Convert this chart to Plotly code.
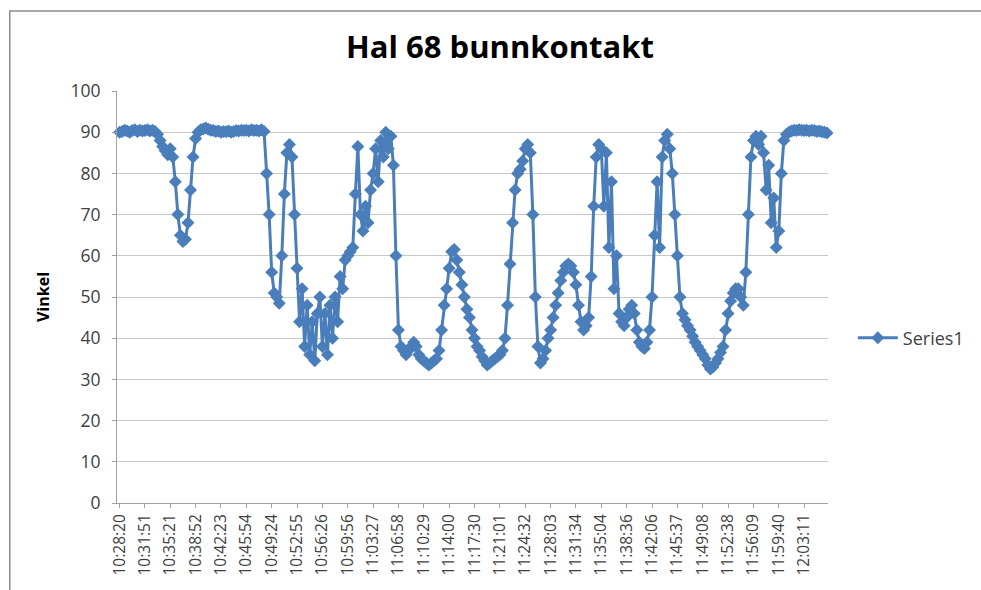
import plotly.graph_objects as go

title_text = "Hal 68 bunnkontakt"
y_title = "Vinkel"
series_name = "Series1"

tick_labels = [
    "10:28:20", "10:31:51", "10:35:21", "10:38:52", "10:42:23", "10:45:54",
    "10:49:24", "10:52:55", "10:56:26", "10:59:56", "11:03:27", "11:06:58",
    "11:10:29", "11:14:00", "11:17:30", "11:21:01", "11:24:32", "11:28:03",
    "11:31:34", "11:35:04", "11:38:36", "11:42:06", "11:45:37", "11:49:08",
    "11:52:38", "11:56:09", "11:59:40", "12:03:11",
]

# samples per labelled interval
samples_per_label = 10

values = [
    90.0, 90.2, 90.5, 90.3, 90.0, 90.4, 90.6, 90.2, 90.5, 90.3,
    90.4, 90.6, 90.3, 90.5, 90.2, 89.5, 88.0, 86.5, 85.5, 84.5,
    86.0, 84.0, 78.0, 70.0, 65.0, 63.5, 64.0, 68.0, 76.0, 84.0,
    88.5, 90.0, 90.6, 90.8, 91.0, 90.7, 90.5, 90.4, 90.2, 90.3,
    90.0, 90.2, 90.1, 90.3, 90.0, 90.2, 90.4, 90.3, 90.5, 90.4,
    90.5, 90.3, 90.6, 90.4, 90.5, 90.3, 90.6, 90.2, 80.0, 70.0,
    56.0, 51.0, 50.0, 48.5, 60.0, 75.0, 85.0, 87.0, 84.0, 70.0,
    57.0, 44.0, 52.0, 38.0, 48.0, 36.0, 44.0, 34.5, 46.0, 50.0,
    38.0, 46.0, 36.0, 48.0, 40.0, 50.0, 44.0, 55.0, 52.0, 59.0,
    60.0, 61.0, 62.0, 75.0, 86.5, 70.0, 66.0, 72.0, 68.0, 76.0,
    80.0, 86.0, 78.0, 88.0, 84.0, 90.0, 86.0, 89.0, 82.0, 60.0,
    42.0, 38.0, 37.0, 36.0, 37.0, 38.0, 39.0, 38.0, 36.0, 35.0,
    34.5, 34.0, 33.5, 34.0, 34.5, 35.0, 37.0, 42.0, 48.0, 52.0,
    57.0, 61.0, 61.5, 59.0, 56.0, 53.0, 50.0, 47.0, 45.0, 42.0,
    40.0, 38.0, 37.0, 35.5, 34.5, 33.5, 34.0, 34.5, 35.0, 35.5,
    36.0, 37.0, 40.0, 48.0, 58.0, 68.0, 76.0, 80.0, 81.0, 83.0,
    86.0, 87.0, 85.0, 70.0, 50.0, 38.0, 34.0, 35.0, 37.0, 40.0,
    42.0, 45.0, 48.0, 51.0, 54.0, 56.0, 57.5, 58.0, 57.5, 56.0,
    53.0, 48.0, 44.0, 42.0, 43.0, 45.0, 55.0, 72.0, 84.0, 87.0,
    86.0, 72.0, 85.0, 62.0, 78.0, 52.0, 60.0, 46.0, 44.0, 43.0,
    45.0, 47.0, 48.0, 46.0, 42.0, 39.0, 38.0, 37.5, 39.0, 42.0,
    50.0, 65.0, 78.0, 62.0, 84.0, 88.0, 89.5, 86.0, 80.0, 70.0,
    60.0, 50.0, 46.0, 44.5, 43.0, 42.0, 40.5, 39.0, 38.0, 37.0,
    36.0, 35.0, 33.5, 32.5, 33.0, 34.0, 35.0, 36.5, 38.0, 42.0,
    46.0, 49.0, 51.0, 52.0, 52.0, 50.0, 48.0, 56.0, 70.0, 84.0,
    88.0, 89.0, 87.0, 89.0, 85.0, 76.0, 82.0, 68.0, 74.0, 62.0,
    66.0, 80.0, 88.0, 89.5, 90.0, 90.3, 90.5, 90.4, 90.6, 90.5,
    90.4, 90.5, 90.3, 90.5, 90.4, 90.2, 90.3, 90.1, 90.0, 89.8,
    89.6,
]

y_ticks = [0, 10, 20, 30, 40, 50, 60, 70, 80, 90, 100]

blue = "#4A7EBB"
grid = "#C8C8C8"
txt = "#404040"
font_family = "Open Sans, Lato, DejaVu Sans, sans-serif"

x_idx = list(range(len(values)))
tick_pos = [k * samples_per_label for k in range(len(tick_labels))]

fig = go.Figure()
fig.add_trace(go.Scatter(
    x=x_idx, y=values, mode="lines+markers", name=series_name,
    line=dict(color=blue, width=3),
    marker=dict(symbol="diamond", size=10, color=blue),
    cliponaxis=False,
))

W, H = 981, 590
L, R, T, B = 117, 148, 91, 87
pw, ph = W - L - R, H - T - B

def px_x(p):
    return (p - L) / pw

def px_y(p):
    return (H - B - p) / ph

fig.update_layout(
    width=W, height=H,
    margin=dict(l=L, r=R, t=T, b=B),
    paper_bgcolor="white", plot_bgcolor="white",
    font=dict(family=font_family, color=txt, size=15),
    title=dict(text="<b>" + title_text + "</b>", x=500 / W, xanchor="center",
               xref="container", y=1 - 47 / H, yanchor="middle",
               font=dict(size=31, color="#000000", family=font_family)),
    showlegend=True,
    legend=dict(x=px_x(858), y=px_y(338), xanchor="left", yanchor="middle",
                itemwidth=40,
                bgcolor="rgba(0,0,0,0)", font=dict(size=18, color=txt)),
    xaxis=dict(
        range=[-1.0, len(values) - 1.6],
        tickmode="array", tickvals=tick_pos, ticktext=tick_labels,
        tickangle=-90, showgrid=False, zeroline=False,
        showline=True, linecolor="#A0A0A0", linewidth=1,
        ticks="outside", ticklen=4, tickcolor="#A0A0A0",
        tickfont=dict(size=15.5, color=txt),
    ),
    yaxis=dict(
        range=[0, 100], tickmode="array", tickvals=y_ticks,
        showgrid=True, gridcolor=grid, gridwidth=1, zeroline=False,
        showline=True, linecolor="#A0A0A0", linewidth=1,
        ticks="outside", ticklen=4, tickcolor="#A0A0A0",
        ticklabelstandoff=8,
        tickfont=dict(size=17.5, color=txt),
        title=dict(text="<b>" + y_title + "</b>", font=dict(size=16, color="#000000"),
                   standoff=16),
    ),
    shapes=[dict(type="rect", xref="paper", yref="paper",
                 x0=px_x(9), x1=px_x(1000), y0=px_y(610), y1=px_y(11),
                 line=dict(color="#8C8C8C", width=1.5), fillcolor="rgba(0,0,0,0)",
                 layer="below")],
)

fig.write_html("out.html", config={"displayModeBar": False},
               post_script="document.body.style.margin='0';document.body.style.overflow='hidden';")
